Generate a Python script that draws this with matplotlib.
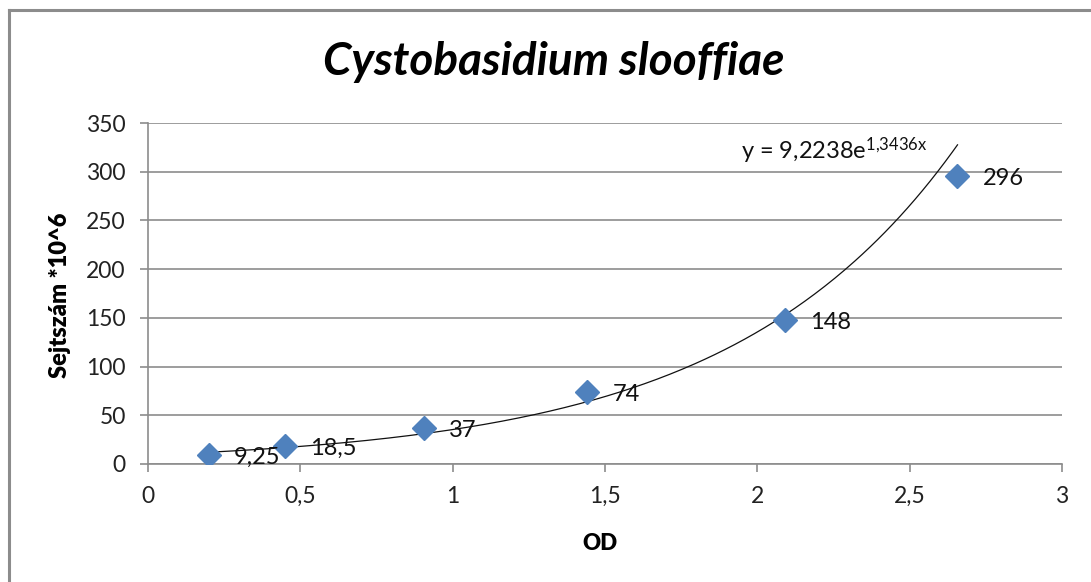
import numpy as np
import matplotlib
matplotlib.use("Agg")
import matplotlib.pyplot as plt
from matplotlib.ticker import FuncFormatter, MultipleLocator
from matplotlib.lines import Line2D

plt.rcParams['font.family'] = ['Lato', 'DejaVu Sans']
plt.rcParams['mathtext.fontset'] = 'custom'
plt.rcParams['mathtext.rm'] = 'Lato'
plt.rcParams['mathtext.it'] = 'Lato:italic'

# Optical density vs. cell count (x 10^6)
od = [0.2, 0.451, 0.905, 1.442, 2.09, 2.657]
cells = [9.25, 18.5, 37, 74, 148, 296]
point_labels = ["9,25", "18,5", "37", "74", "148", "296"]

# Exponential trendline y = a * exp(b * x)
trend_a = 9.2238
trend_b = 1.3436
trend_label = r"y = 9,2238e$^{\mathrm{1{,}3436x}}$"

title = "Cystobasidium slooffiae"
xlabel = "OD"
ylabel = "Sejtszám *10^6"

grey = "#8c8c8c"
blue = "#4f81bd"

fig = plt.figure(figsize=(10.91, 5.82), dpi=100)
ax = fig.add_axes([148 / 1091, 1 - 464 / 582, (1062 - 148) / 1091, (464 - 123) / 582])

# outer chart frame (top and left edges)
fig.add_artist(Line2D([9 / 1091, 9 / 1091], [0, 1 - 10 / 582], transform=fig.transFigure,
                      color=grey, lw=2.2))
fig.add_artist(Line2D([9 / 1091, 1], [1 - 10 / 582, 1 - 10 / 582], transform=fig.transFigure,
                      color=grey, lw=2.2))

ax.set_xlim(0, 3)
ax.set_ylim(0, 350)
ax.xaxis.set_major_locator(MultipleLocator(0.5))
ax.yaxis.set_major_locator(MultipleLocator(50))
fmt = FuncFormatter(lambda v, p: ("%g" % v).replace(".", ","))
ax.xaxis.set_major_formatter(fmt)
ax.yaxis.set_major_formatter(fmt)

ax.grid(axis="y", color=grey, lw=1.2)
ax.set_axisbelow(True)
for s in ["top", "right"]:
    ax.spines[s].set_visible(False)
for s in ["left", "bottom"]:
    ax.spines[s].set_color(grey)
    ax.spines[s].set_linewidth(1.2)
ax.tick_params(axis="both", direction="out", length=6, width=1.2, color=grey,
               labelsize=16.5, labelcolor="#222222")
ax.tick_params(axis="x", pad=10)
ax.tick_params(axis="y", pad=10)

# trendline over the data range
xs = np.linspace(min(od), max(od), 300)
ax.plot(xs, trend_a * np.exp(trend_b * xs), color="#111111", lw=0.9, zorder=3)

ax.plot(od, cells, linestyle="none", marker="D", markersize=12, color=blue,
        markeredgecolor=blue, zorder=4)

for x, y, t in zip(od, cells, point_labels):
    ax.annotate(t, (x, y), xytext=(18, -2), textcoords="offset points",
                ha="left", va="center", fontsize=17, color="#111111", zorder=5)

ax.text(1.948, 322, trend_label, fontsize=17, ha="left", va="center", color="#111111")

fig.text(554 / 1091, 1 - 62 / 582, title, fontsize=33, fontweight="bold", fontstyle="italic",
         ha="center", va="center")
fig.text(600 / 1091, 1 - 543 / 582, xlabel, fontsize=16, fontweight="heavy",
         ha="center", va="center")
fig.text(60 / 1091, 1 - 295 / 582, ylabel, fontsize=17, fontweight="heavy",
         ha="center", va="center", rotation=90)

fig.savefig("out.png", dpi=100, facecolor="white")
